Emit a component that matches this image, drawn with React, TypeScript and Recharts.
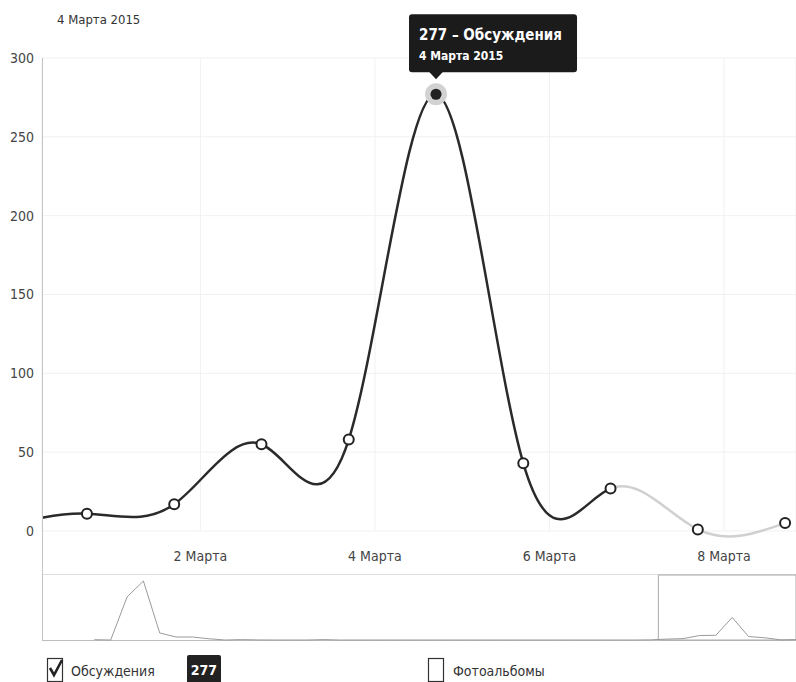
import React from 'react'
import {
  CartesianGrid, Line, LineChart, ReferenceArea, ReferenceDot, XAxis, YAxis,
} from 'recharts'

const FONT = "'DejaVu Sans Condensed', 'Liberation Sans Narrow', 'DejaVu Sans', sans-serif"

// x = day of March 2015 (0 = 28 Февраля, -1 = 27 Февраля)
const marchDays = [-1, 0, 1, 2, 3, 4, 5, 6, 7, 8]
const discussions = [2, 11, 17, 55, 58, 277, 43, 27, 1, 5]

// older days, only visible in the navigator strip under the chart
const earlierDays = [
  -35, -34, -33, -32, -31, -30, -29, -28, -27, -26, -25, -24, -23, -22, -21, -20, -19,
  -18, -17, -16, -15, -14, -13, -12, -11, -10, -9, -8, -7, -6, -5, -4, -3, -2,
]
const earlierDiscussions = [
  4, 0, 529, 726, 86, 37, 37, 15, 0, 5, 1, 0, 0, 0, 5, 0, 0,
  0, 0, 0, 0, 0, 0, 0, 0, 0, 0, 0, 0, 0, 0, 0, 0, 0,
]

const xTicks = [1.3, 3.3, 5.3, 7.3]
const xTickLabels = ['2 Марта', '4 Марта', '6 Марта', '8 Марта']
const yTicks = [0, 50, 100, 150, 200, 250, 300]

const xDomain: [number, number] = [-0.515, 8.125]
const navDomain: [number, number] = [-38.2, 7.9]

const selectedDay = 4
const selectedLabel = '4 Марта 2015'
const fadedFromDay = 6 // the line turns light grey from this day on
const seriesName = 'Обсуждения'
const otherSeriesName = 'Фотоальбомы'

const mainData = marchDays.map((day, i) => ({ day, value: discussions[i] }))
const navData = [
  ...earlierDays.map((day, i) => ({ day, value: earlierDiscussions[i] })),
  ...mainData,
]
const selectedValue = discussions[marchDays.indexOf(selectedDay)]
const fadeOffset = (fadedFromDay - marchDays[0]) / (marchDays[marchDays.length - 1] - marchDays[0])

const tickStyle = { fill: '#444', fontSize: 14, fontFamily: FONT }

function PeakMarker({ cx, cy }: { cx?: number; cy?: number }) {
  if (cx == null || cy == null) return null
  return (
    <g>
      <circle cx={cx} cy={cy} r={11} fill="#d2d2d2" />
      <circle cx={cx} cy={cy} r={5.5} fill="#222" />
      <rect x={cx - 27} y={cy - 80} width={168} height={58} rx={3} fill="#1b1b1b" />
      <path d={`M${cx - 7},${cy - 22.5} L${cx},${cy - 15} L${cx + 7},${cy - 22.5} Z`} fill="#1b1b1b" />
      <text x={cx - 17} y={cy - 54} fill="#fff" fontWeight="bold" fontSize={15} fontFamily={FONT}>
        {`${selectedValue} – ${seriesName}`}
      </text>
      <text x={cx - 17} y={cy - 34} fill="#fff" fontWeight="bold" fontSize={12} fontFamily={FONT}>
        {selectedLabel}
      </text>
    </g>
  )
}

function CheckBox({ checked }: { checked: boolean }) {
  return (
    <svg width={18} height={26} style={{ display: 'block' }}>
      <rect x={1.5} y={1.5} width={15} height={23} fill="#fff" stroke="#333" strokeWidth={1.2} />
      {checked && (
        <path d="M4,11 L8,18 L16,3" fill="none" stroke="#222" strokeWidth={2.6} />
      )}
    </svg>
  )
}

export default function App() {
  return (
    <div style={{
      position: 'absolute', left: 0, top: 0, width: 796, height: 682,
      overflow: 'hidden', background: '#fff', fontFamily: FONT, color: '#333',
    }}>
      <div style={{ position: 'absolute', left: 57, top: 12, fontSize: 13 }}>{selectedLabel}</div>

      <div style={{ position: 'absolute', left: 0, top: 0 }}>
        <LineChart width={796} height={575} data={mainData} margin={{ top: 58, right: 0, bottom: 0, left: 0 }}>
          <defs>
            <linearGradient id="fadeStroke" x1="0" y1="0" x2="1" y2="0">
              <stop offset={fadeOffset} stopColor="#2a2a2a" />
              <stop offset={fadeOffset} stopColor="#d0d0d0" />
            </linearGradient>
          </defs>
          <CartesianGrid stroke="#f1f1f1" />
          <XAxis
            dataKey="day"
            type="number"
            domain={xDomain}
            allowDataOverflow
            ticks={xTicks}
            interval={0}
            tickFormatter={(v: number) => xTickLabels[xTicks.indexOf(v)] ?? ''}
            height={44}
            tickLine={false}
            axisLine={false}
            tickMargin={14}
            tick={tickStyle}
          />
          <YAxis
            domain={[0, 300]}
            ticks={yTicks}
            width={42}
            tickLine={false}
            axisLine={false}
            tick={tickStyle}
          />
          <Line
            type="natural"
            dataKey="value"
            stroke="url(#fadeStroke)"
            strokeWidth={2.5}
            dot={{ r: 5, fill: '#fff', stroke: '#222', strokeWidth: 2 }}
            activeDot={false}
            isAnimationActive={false}
          />
          <ReferenceDot x={selectedDay} y={selectedValue} ifOverflow="visible" shape={PeakMarker} />
        </LineChart>
      </div>

      {/* navigator */}
      <div style={{ position: 'absolute', left: 42, top: 574, width: 754, height: 1, background: '#dcdcdc' }} />
      <div style={{ position: 'absolute', left: 42, top: 640, width: 754, height: 1, background: '#bdbdbd' }} />
      <div style={{ position: 'absolute', left: 42, top: 574 }}>
        <LineChart width={754} height={67} data={navData} margin={{ top: 1, right: 0, bottom: 1, left: 0 }}>
          <XAxis dataKey="day" type="number" domain={navDomain} allowDataOverflow hide />
          <YAxis domain={[0, 800]} hide />
          <ReferenceArea
            x1={xDomain[0]}
            x2={Math.min(xDomain[1], navDomain[1])}
            ifOverflow="visible"
            fill="none"
            stroke="#aaa"
            strokeWidth={1}
          />
          <Line
            type="linear"
            dataKey="value"
            stroke="#9a9a9a"
            strokeWidth={1}
            dot={false}
            activeDot={false}
            isAnimationActive={false}
          />
        </LineChart>
      </div>

      {/* y axis line, runs down through the navigator */}
      <div style={{ position: 'absolute', left: 42, top: 58, width: 1, height: 583, background: '#c4c4c4' }} />

      {/* legend */}
      <div style={{ position: 'absolute', left: 46, top: 657 }}><CheckBox checked /></div>
      <div style={{ position: 'absolute', left: 71, top: 663, fontSize: 14 }}>{seriesName}</div>
      <div style={{
        position: 'absolute', left: 187, top: 655, width: 34, height: 30, background: '#222',
        borderRadius: 2, color: '#fff', fontWeight: 'bold', fontSize: 14, textAlign: 'center', paddingTop: 7,
        boxSizing: 'border-box',
      }}>{selectedValue}</div>
      <div style={{ position: 'absolute', left: 427, top: 657 }}><CheckBox checked={false} /></div>
      <div style={{ position: 'absolute', left: 453, top: 663, fontSize: 14 }}>{otherSeriesName}</div>
    </div>
  )
}
